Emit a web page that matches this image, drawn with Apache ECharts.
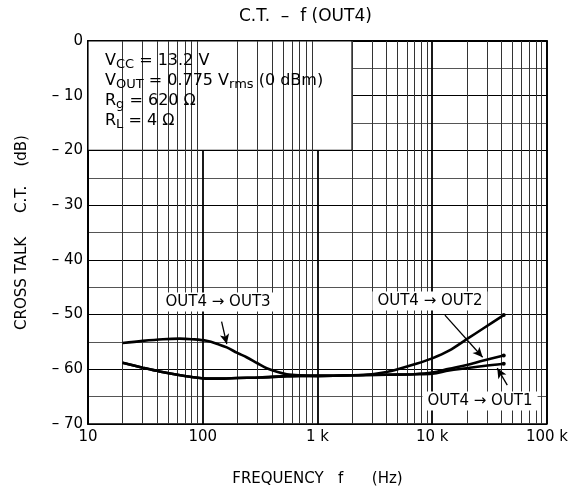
<!DOCTYPE html>
<html><head><meta charset="utf-8">
<script src="https://cdn.jsdelivr.net/npm/echarts@6/dist/echarts.min.js"></script>
<style>html,body{margin:0;padding:0;background:#fff}#c{width:571px;height:494px}</style>
</head><body><div id="c"></div>
<script>
// ---- data ----
const xTickLabels = {10: '10', 100: '100', 1000: '1 k', 10000: '10 k', 100000: '100 k'};
const minorGridFreqs = [20, 30, 40, 50, 60, 70, 80, 90,
  200, 300, 400, 500, 600, 700, 800, 900,
  2000, 3000, 4000, 5000, 6000, 7000, 8000, 9000,
  20000, 30000, 40000, 50000, 60000, 70000, 80000, 90000];

const freqOut3 = [20, 30, 45, 63, 80, 108, 140, 162, 200, 241, 300, 361, 450, 540, 700, 1000, 2000, 3000, 4000, 5000, 7000, 10000, 14000, 20000, 28000, 42000];
const ctOut3   = [-55.2, -54.8, -54.5, -54.4, -54.5, -54.8, -55.5, -56.0, -57.0, -57.8, -58.9, -59.8, -60.5, -60.9, -61.1, -61.2, -61.1, -60.9, -60.5, -60.0, -59.1, -58.0, -56.6, -54.5, -52.5, -50.1];

const freqOut21 = [20, 30, 42, 60, 80, 108, 150, 200, 316, 500, 700, 1000, 2000, 4000, 7000, 10000, 14000, 20000, 28000, 42000];
const ctOut2    = [-58.8, -59.7, -60.4, -61.0, -61.4, -61.7, -61.7, -61.6, -61.5, -61.3, -61.2, -61.2, -61.1, -61.0, -60.9, -60.6, -59.9, -59.2, -58.4, -57.5];
const ctOut1    = [-58.8, -59.7, -60.4, -61.0, -61.4, -61.7, -61.7, -61.6, -61.5, -61.3, -61.2, -61.2, -61.1, -61.0, -60.9, -60.8, -60.2, -59.8, -59.4, -59.0];

// annotation anchors (data coordinates)
const labelOut3 = {name: 'OUT4 \u2192 OUT3', at: [136, -47.7], arrowFrom: [146, -51.3], arrowTo: [162, -55.4]};
const labelOut2 = {name: 'OUT4 \u2192 OUT2', at: [9550, -47.5], arrowFrom: [12900, -50.1], arrowTo: [27500, -57.8]};
const labelOut1 = {name: 'OUT4 \u2192 OUT1', at: [26100, -65.8], arrowFrom: [45100, -62.9], arrowTo: [36900, -59.8]};
const conditionBox = [[10, 0], [2000, -20]];

// ---- chart ----
const FONT = 'DejaVu Sans';
const chart = echarts.init(document.getElementById('c'), null, {renderer: 'canvas'});

function pairs(xs, ys) {
  return xs.map((x, i) => {
    const item = {value: [x, ys[i]]};
    if (i === xs.length - 1) { item.symbol = 'circle'; item.symbolSize = 4; }
    return item;
  });
}
function annot(lbl) {
  return {
    markPoint: {
      silent: true, symbol: 'circle', symbolSize: 1,
      itemStyle: {color: 'rgba(0,0,0,0)'},
      label: {show: true, position: 'inside', formatter: '{b}', color: '#000',
        fontFamily: FONT, fontSize: 15, backgroundColor: '#fff', padding: [2, 5]},
      data: [{name: lbl.name, coord: lbl.at}]
    },
    markLine: {
      silent: true, symbol: ['none', 'arrow'], symbolSize: [7, 10],
      lineStyle: {color: '#000', width: 1.3, type: 'solid'},
      label: {show: false},
      data: [[{coord: lbl.arrowFrom}, {coord: lbl.arrowTo}]]
    }
  };
}
const curveBase = {
  type: 'line', smooth: 0.35, showSymbol: true, symbol: 'none',
  lineStyle: {color: '#000', width: 2.6}, itemStyle: {color: '#000'},
  z: 5, animation: false
};
const richBox = {
  m: {fontFamily: FONT, fontSize: 16, lineHeight: 20, verticalAlign: 'middle', fill: '#000'},
  s: {fontFamily: FONT, fontSize: 13, lineHeight: 14, verticalAlign: 'bottom', fill: '#000'}
};

const option = {
  animation: false,
  backgroundColor: '#fff',
  title: {
    text: 'C.T.  \u2013  f (OUT4)', left: 234, top: 3,
    textStyle: {fontFamily: FONT, fontSize: 17, fontWeight: 'normal', color: '#000'}
  },
  grid: {left: 88, right: 24, top: 41, bottom: 70, show: true, borderColor: '#000', borderWidth: 1.5, backgroundColor: 'transparent'},
  xAxis: {
    type: 'log', logBase: 10, min: 10, max: 100000,
    name: 'FREQUENCY   f      (Hz)', nameLocation: 'middle', nameGap: 48,
    nameTextStyle: {fontFamily: FONT, fontSize: 15, color: '#000'},
    axisLine: {lineStyle: {color: '#000', width: 2}},
    axisTick: {show: false},
    axisLabel: {fontFamily: FONT, fontSize: 15, color: '#000', margin: 6,
      formatter: v => xTickLabels[Math.round(v)] || ''},
    splitLine: {show: true, lineStyle: {color: '#000', width: 1.8}}
  },
  yAxis: {
    type: 'value', min: -70, max: 0, interval: 5,
    name: 'CROSS TALK     C.T.    (dB)', nameLocation: 'middle', nameGap: 58, nameRotate: 90,
    nameTextStyle: {fontFamily: FONT, fontSize: 15, color: '#000'},
    axisLine: {show: true, lineStyle: {color: '#000', width: 2}},
    axisTick: {show: false},
    axisLabel: {fontFamily: FONT, fontSize: 15, color: '#000', margin: 5,
      formatter: v => (v % 10 === 0 ? (v === 0 ? '0' : '\u2013 ' + Math.abs(v)) : '')},
    splitLine: {show: true, lineStyle: {color: ['#000', '#555'], width: 1.1}}
  },
  series: [
    {
      type: 'line', data: [], z: 1, silent: true,
      markLine: {
        silent: true, symbol: 'none', label: {show: false},
        lineStyle: {color: '#333', width: 1, type: 'solid'},
        data: minorGridFreqs.map(f => ({xAxis: f}))
      }
    },
    {
      type: 'line', data: [], z: 2, silent: true,
      markArea: {
        silent: true,
        itemStyle: {color: '#fff', borderColor: '#000', borderWidth: 1.2},
        data: [[{coord: conditionBox[0]}, {coord: conditionBox[1]}]]
      }
    },
    Object.assign({}, curveBase, {name: 'OUT4-OUT3', data: pairs(freqOut3, ctOut3)}, annot(labelOut3)),
    Object.assign({}, curveBase, {name: 'OUT4-OUT2', data: pairs(freqOut21, ctOut2)}, annot(labelOut2)),
    Object.assign({}, curveBase, {name: 'OUT4-OUT1', data: pairs(freqOut21, ctOut1)}, annot(labelOut1))
  ],
  graphic: [
    {type: 'text', left: 105, top: 53, z: 100, style: {text: '{m|V}{s|CC}{m| = 13.2 V}', rich: richBox}},
    {type: 'text', left: 105, top: 73, z: 100, style: {text: '{m|V}{s|OUT}{m| = 0.775 V}{s|rms}{m| (0 dBm)}', rich: richBox}},
    {type: 'text', left: 105, top: 93, z: 100, style: {text: '{m|R}{s|g}{m| = 620 \u03A9}', rich: richBox}},
    {type: 'text', left: 105, top: 113, z: 100, style: {text: '{m|R}{s|L}{m| = 4 \u03A9}', rich: richBox}}
  ]
};
chart.setOption(option);
</script>
</body></html>
